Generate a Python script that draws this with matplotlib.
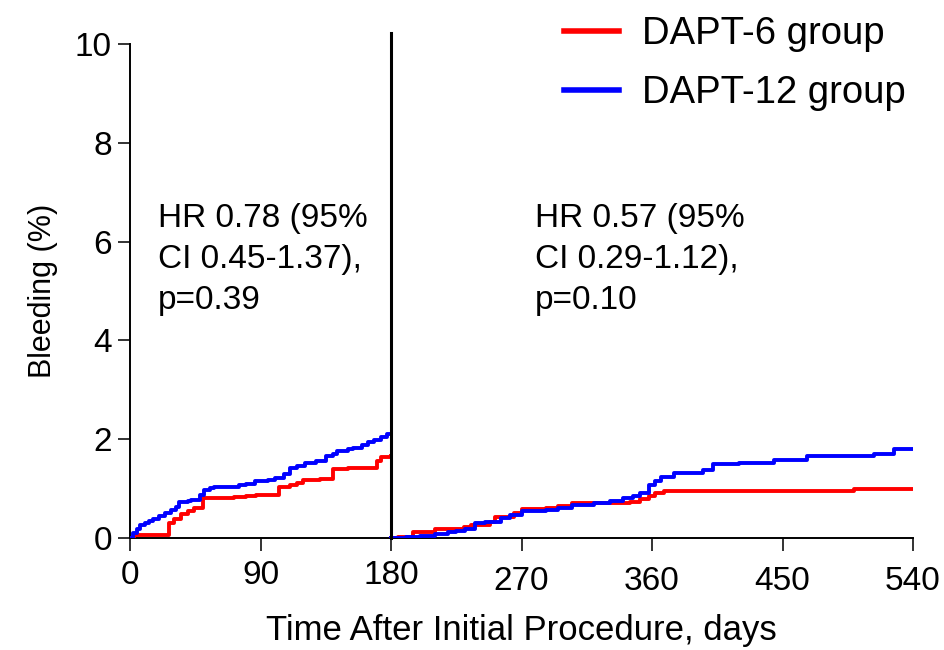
import matplotlib
matplotlib.use("Agg")
import matplotlib.pyplot as plt
import matplotlib.transforms as mtransforms

# ---- data ----
t6_early = [0, 3, 25, 27, 30, 35, 40, 44, 50, 60, 72, 80, 87, 100, 103, 110, 115, 119, 131, 140, 150, 166, 170, 173, 180]
y6_early = [0, 0.06, 0.06, 0.3, 0.39, 0.49, 0.55, 0.6, 0.8, 0.8, 0.82, 0.85, 0.87, 0.87, 1.04, 1.08, 1.12, 1.18, 1.2, 1.39, 1.42, 1.42, 1.55, 1.63, 1.66]

t12_early = [0, 2, 5, 7, 10, 13, 16, 20, 24, 28, 32, 34, 40, 42, 48, 51, 55, 58, 70, 75, 80, 86, 95, 100, 106, 110, 115, 121, 128, 135, 140, 143, 150, 154, 160, 164, 168, 173, 177, 180]
y12_early = [0, 0.1, 0.18, 0.26, 0.3, 0.35, 0.39, 0.45, 0.5, 0.57, 0.62, 0.73, 0.75, 0.77, 0.88, 0.98, 1.02, 1.04, 1.04, 1.07, 1.1, 1.15, 1.18, 1.21, 1.3, 1.42, 1.45, 1.52, 1.56, 1.66, 1.7, 1.77, 1.8, 1.83, 1.88, 1.94, 1.98, 2.04, 2.1, 2.1]

t6_late = [180, 185, 195, 200, 210, 230, 235, 248, 252, 265, 270, 287, 295, 305, 320, 336, 345, 352, 358, 362, 368, 400, 499, 540]
y6_late = [0, 0.03, 0.12, 0.12, 0.19, 0.22, 0.26, 0.33, 0.43, 0.5, 0.59, 0.6, 0.65, 0.71, 0.7, 0.7, 0.72, 0.78, 0.85, 0.91, 0.95, 0.95, 1.0, 1.0]

t12_late = [180, 190, 200, 210, 219, 225, 231, 238, 245, 256, 262, 270, 287, 295, 305, 320, 331, 340, 347, 352, 358, 362, 366, 375, 386, 395, 402, 420, 444, 467, 511, 513, 525, 527, 540]
y12_late = [0, 0.02, 0.05, 0.09, 0.12, 0.15, 0.19, 0.3, 0.33, 0.4, 0.46, 0.54, 0.56, 0.6, 0.67, 0.7, 0.75, 0.8, 0.86, 0.92, 1.08, 1.16, 1.24, 1.32, 1.32, 1.38, 1.49, 1.52, 1.58, 1.65, 1.65, 1.71, 1.71, 1.8, 1.8]

xticks = [0, 90, 180, 270, 360, 450, 540]
yticks = [0, 2, 4, 6, 8, 10]
labels = ["DAPT-6 group", "DAPT-12 group"]
colors = ["#ff0000", "#0000ff"]
hr_early = "HR 0.78 (95%\nCI 0.45-1.37),\np=0.39"
hr_late = "HR 0.57 (95%\nCI 0.29-1.12),\np=0.10"
landmark = 180

plt.rcParams['font.family'] = ['Liberation Sans', 'DejaVu Sans']

fig = plt.figure(figsize=(9.44, 6.5), dpi=100)
ax = fig.add_axes([130/944, 1 - 538/650, (913-130)/944, (538-44)/650])

lw = 2.8
ax.plot(t6_early, y6_early, drawstyle='steps-post', color=colors[0], lw=lw, label=labels[0], zorder=3)
ax.plot(t12_early, y12_early, drawstyle='steps-post', color=colors[1], lw=lw, label=labels[1], zorder=3)
ax.plot(t6_late, y6_late, drawstyle='steps-post', color=colors[0], lw=lw, zorder=3)
ax.plot(t12_late, y12_late, drawstyle='steps-post', color=colors[1], lw=lw, zorder=3)

ax.plot([landmark, landmark], [0, 10.22], color='black', lw=2.2, clip_on=False, zorder=4)

ax.set_xlim(0, 540)
ax.set_ylim(0, 10)
ax.set_xticks(xticks)
ax.set_yticks(yticks)
for s in ['top', 'right']:
    ax.spines[s].set_visible(False)
for s in ['left', 'bottom']:
    ax.spines[s].set_linewidth(1.4)
ax.tick_params(axis='both', width=1.4, length=9, color='#333333')
ax.tick_params(axis='y', labelsize=24, pad=4)
ax.tick_params(axis='x', labelsize=24, pad=7)
# later tick labels sit slightly lower in the reference
off = mtransforms.ScaledTranslation(0, -6/100, fig.dpi_scale_trans)
for lab in ax.get_xticklabels()[3:]:
    lab.set_transform(lab.get_transform() + off)

ax.set_ylabel("Bleeding (%)", fontsize=22, labelpad=12)
ax.set_xlabel("Time After Initial Procedure, days", fontsize=25, labelpad=12)

ax.text(19.3, 6.78, hr_early, fontsize=24, va='top', ha='left', linespacing=1.42)
ax.text(279.3, 6.78, hr_late, fontsize=24, va='top', ha='left', linespacing=1.42)

leg = fig.legend(loc='upper left', bbox_to_anchor=(564/944, 1 - 16/650), frameon=False,
                 fontsize=27.5, handlelength=1.45, handletextpad=0.6, labelspacing=0.6,
                 borderpad=0, borderaxespad=0)
for h in leg.get_lines():
    h.set_linewidth(4)

fig.savefig("out.png", dpi=100)
